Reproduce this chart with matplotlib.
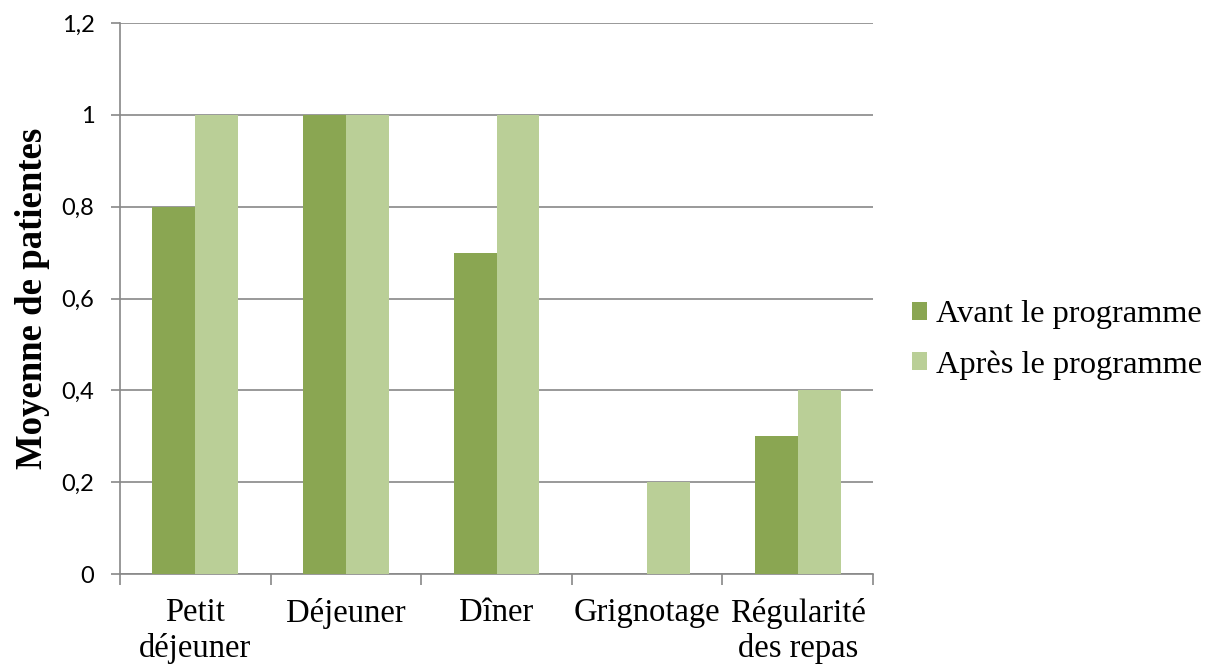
import numpy as np
import matplotlib.pyplot as plt

# data
categories = ['Petit\ndéjeuner', 'Déjeuner', 'Dîner', 'Grignotage', 'Régularité\ndes repas']
avant = [0.8, 1.0, 0.7, 0.0, 0.3]
apres = [1.0, 1.0, 1.0, 0.2, 0.4]
yticks = [0, 0.2, 0.4, 0.6, 0.8, 1.0, 1.2]
ytick_labels = ['0', '0,2', '0,4', '0,6', '0,8', '1', '1,2']

col_avant = '#8AA652'
col_apres = '#BACF97'
grid_col = '#888888'

fig = plt.figure(figsize=(12.21, 6.65), dpi=100)
ax = fig.add_axes([0.0983, 0.1368, 0.6167, 0.8286])

x = np.arange(len(categories))
w = 0.285
ax.bar(x - w / 2, avant, w, color=col_avant, label='Avant le programme', zorder=3)
ax.bar(x + w / 2, apres, w, color=col_apres, label='Après le programme', zorder=3)

ax.set_xlim(-0.5, len(categories) - 0.5)
ax.set_ylim(0, 1.2)

# gridlines and axes
ax.set_yticks(yticks)
ax.set_yticklabels(ytick_labels, family='Lato', fontsize=17)
ax.yaxis.grid(True, color=grid_col, linewidth=1.2, zorder=0)
ax.tick_params(axis='y', length=6.5, width=1.2, color=grid_col, pad=12)

ax.set_xticks(np.arange(-0.5, len(categories), 1.0))
ax.set_xticklabels([])
ax.set_xticks(x, minor=True)
ax.set_xticklabels(categories, minor=True, family='Liberation Serif', fontsize=23.5,
                   linespacing=1.2)
ax.tick_params(axis='x', which='major', length=8, width=1.2, color=grid_col)
ax.tick_params(axis='x', which='minor', length=0, pad=17)

for side in ['top', 'right']:
    ax.spines[side].set_visible(False)
for side in ['left', 'bottom']:
    ax.spines[side].set_color(grid_col)
    ax.spines[side].set_linewidth(1.2)

ax.set_ylabel('Moyenne de patientes', family='Liberation Serif', fontsize=26.5,
              fontweight='bold', labelpad=8)

ax.legend(loc='center left', bbox_to_anchor=(1.013, 0.425), frameon=False,
          prop={'family': 'Liberation Serif', 'size': 23.3},
          handlelength=0.48, handleheight=0.48, handletextpad=0.25, labelspacing=0.65)

fig.savefig('out.png', dpi=100)
